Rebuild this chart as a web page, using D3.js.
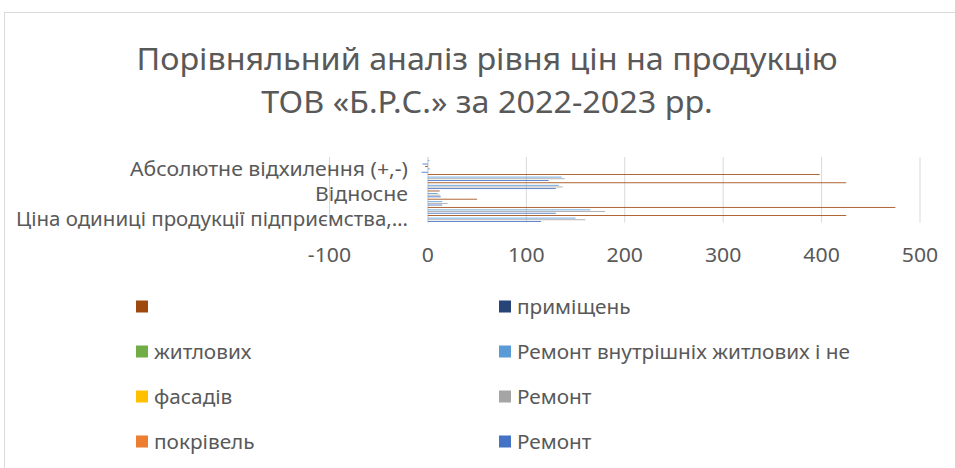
<!DOCTYPE html>
<html>
<head>
<meta charset="utf-8">
<script src="https://cdn.jsdelivr.net/npm/d3@7"></script>
<style>
  html, body { margin: 0; padding: 0; background: #fff; }
  svg { display: block; font-family: "Noto Sans", "Open Sans", sans-serif; }
</style>
</head>
<body>
<svg id="chart" width="955" height="468"></svg>
<script>
// categories from bottom to top; Excel only prints every 3rd name, the rest stay blank
var categories = ['Ціна одиниці продукції підприємства,…', '', '', 'Відносне', '', '', 'Абсолютне відхилення (+,-)', ''];

var seriesNames = ['Ремонт', 'покрівель', 'Ремонт', 'фасадів', 'Ремонт внутрішніх житлових і не', 'житлових', 'приміщень', ''];
var seriesColors = ['#4472C4', '#ED7D31', '#A5A5A5', '#FFC000', '#5B9BD5', '#70AD47', '#264478', '#9E480E'];

// values per series, one per category (null = empty cell)
var s1 = [115, 130, 14.5, 13, 130, 122.7, -6.5, -5.5];
var s2 = [null, null, null, null, null, null, null, null];
var s3 = [160, 180, 20, 12.5, 137, 139, 0, 0];
var s4 = [null, null, null, null, null, null, null, null];
var s5 = [150, 165, 14.5, 10, 133, 136, 2, 1.5];
var s6 = [null, null, null, null, null, null, null, null];
var s7 = [null, null, null, null, null, null, null, null];
var s8 = [425, 475, 50, 12, 425, 398, -3, 0];
var seriesValues = [s1, s2, s3, s4, s5, s6, s7, s8];

var xTicks = [-100, 0, 100, 200, 300, 400, 500];
var titleLines = ['Порівняльний аналіз рівня цін на продукцію', 'ТОВ «Б.Р.С.» за 2022-2023 рр.'];

var textColor = '#595959';
var gridColor = '#D9D9D9';

var svg = d3.select('#chart');

// chart area border (runs off the right and bottom of the picture)
svg.append('rect')
  .attr('x', 4.5).attr('y', 12.5)
  .attr('width', 1000).attr('height', 500)
  .attr('fill', 'none')
  .attr('stroke', gridColor);

// squeeze text to the narrower Calibri widths of the original
function squeeze(sel, k, maxW) {
  sel.each(function() {
    var w = this.getComputedTextLength() * k;
    if (maxW) w = Math.min(w, maxW);
    if (w > 0) {
      d3.select(this).attr('textLength', w).attr('lengthAdjust', 'spacingAndGlyphs');
    }
  });
}

// title
var title = svg.append('g').selectAll('text')
  .data(titleLines)
  .enter().append('text')
  .attr('x', 487)
  .attr('y', function(d, i) { return 70 + i * 43; })
  .attr('text-anchor', 'middle')
  .attr('font-size', 31)
  .attr('fill', textColor)
  .text(function(d) { return d; });
var kTitle = 701 / title.node().getComputedTextLength();
squeeze(title, kTitle);

// scales
var plot = { left: 329.5, right: 920, top: 157, bottom: 222.6 };

var x = d3.scaleLinear()
  .domain([xTicks[0], xTicks[xTicks.length - 1]])
  .range([plot.left, plot.right]);

var gap = 1.82; // Excel gap width 182%
var y = d3.scaleBand()
  .domain(d3.range(categories.length))
  .range([plot.bottom, plot.top])
  .paddingInner(gap / (seriesNames.length + gap))
  .paddingOuter(gap / (seriesNames.length + gap) / 2);

var yInner = d3.scaleBand()
  .domain(d3.range(seriesNames.length))
  .range([y.bandwidth(), 0]);

// gridlines
svg.append('g').selectAll('line')
  .data(xTicks)
  .enter().append('line')
  .attr('x1', function(d) { return x(d); })
  .attr('x2', function(d) { return x(d); })
  .attr('y1', plot.top)
  .attr('y2', plot.bottom)
  .attr('stroke', gridColor)
  .attr('stroke-width', function(d) { return d === 0 ? 1.5 : 1; });

// bars
var bars = [];
seriesValues.forEach(function(vals, s) {
  vals.forEach(function(v, c) {
    if (v !== null) bars.push({ s: s, c: c, v: v });
  });
});

svg.append('g').selectAll('rect')
  .data(bars)
  .enter().append('rect')
  .attr('x', function(d) { return x(Math.min(0, d.v)); })
  .attr('width', function(d) { return Math.abs(x(d.v) - x(0)); })
  .attr('y', function(d) { return y(d.c) + yInner(d.s); })
  .attr('height', yInner.bandwidth())
  .attr('fill', function(d) { return seriesColors[d.s]; });

// x tick labels
var tickLabels = svg.append('g').selectAll('text')
  .data(xTicks)
  .enter().append('text')
  .attr('x', function(d) { return x(d); })
  .attr('y', 262)
  .attr('text-anchor', 'middle')
  .attr('font-size', 20)
  .attr('fill', textColor)
  .text(function(d) { return d; });

// category labels
var catLabels = svg.append('g').selectAll('text')
  .data(categories)
  .enter().append('text')
  .attr('x', 408)
  .attr('y', function(d, i) { return y(i) + y.bandwidth() / 2; })
  .attr('dy', '0.35em')
  .attr('text-anchor', 'end')
  .attr('font-size', 20)
  .attr('fill', textColor)
  .text(function(d) { return d; });
var kLabel = 278 / catLabels.filter(function(d, i) { return i === 6; }).node().getComputedTextLength();
squeeze(catLabels, kLabel, 392);
squeeze(tickLabels, kLabel);

// legend: Excel lists bar series in reverse, two per row
var legendOrder = d3.range(seriesNames.length).reverse();
var legend = svg.append('g').selectAll('g')
  .data(legendOrder)
  .enter().append('g')
  .attr('transform', function(d, i) {
    return 'translate(' + [136, 499][i % 2] + ',' + (306.5 + Math.floor(i / 2) * 45) + ')';
  });

legend.append('rect')
  .attr('x', 0).attr('y', -6)
  .attr('width', 12).attr('height', 12)
  .attr('fill', function(d) { return seriesColors[d]; });

var legendText = legend.append('text')
  .attr('x', 18)
  .attr('dy', '0.35em')
  .attr('font-size', 20)
  .attr('fill', textColor)
  .text(function(d) { return seriesNames[d]; });
var kLegend = 333 / legendText.filter(function(d) { return d === 4; }).node().getComputedTextLength();
squeeze(legendText, kLegend);
</script>
</body>
</html>
